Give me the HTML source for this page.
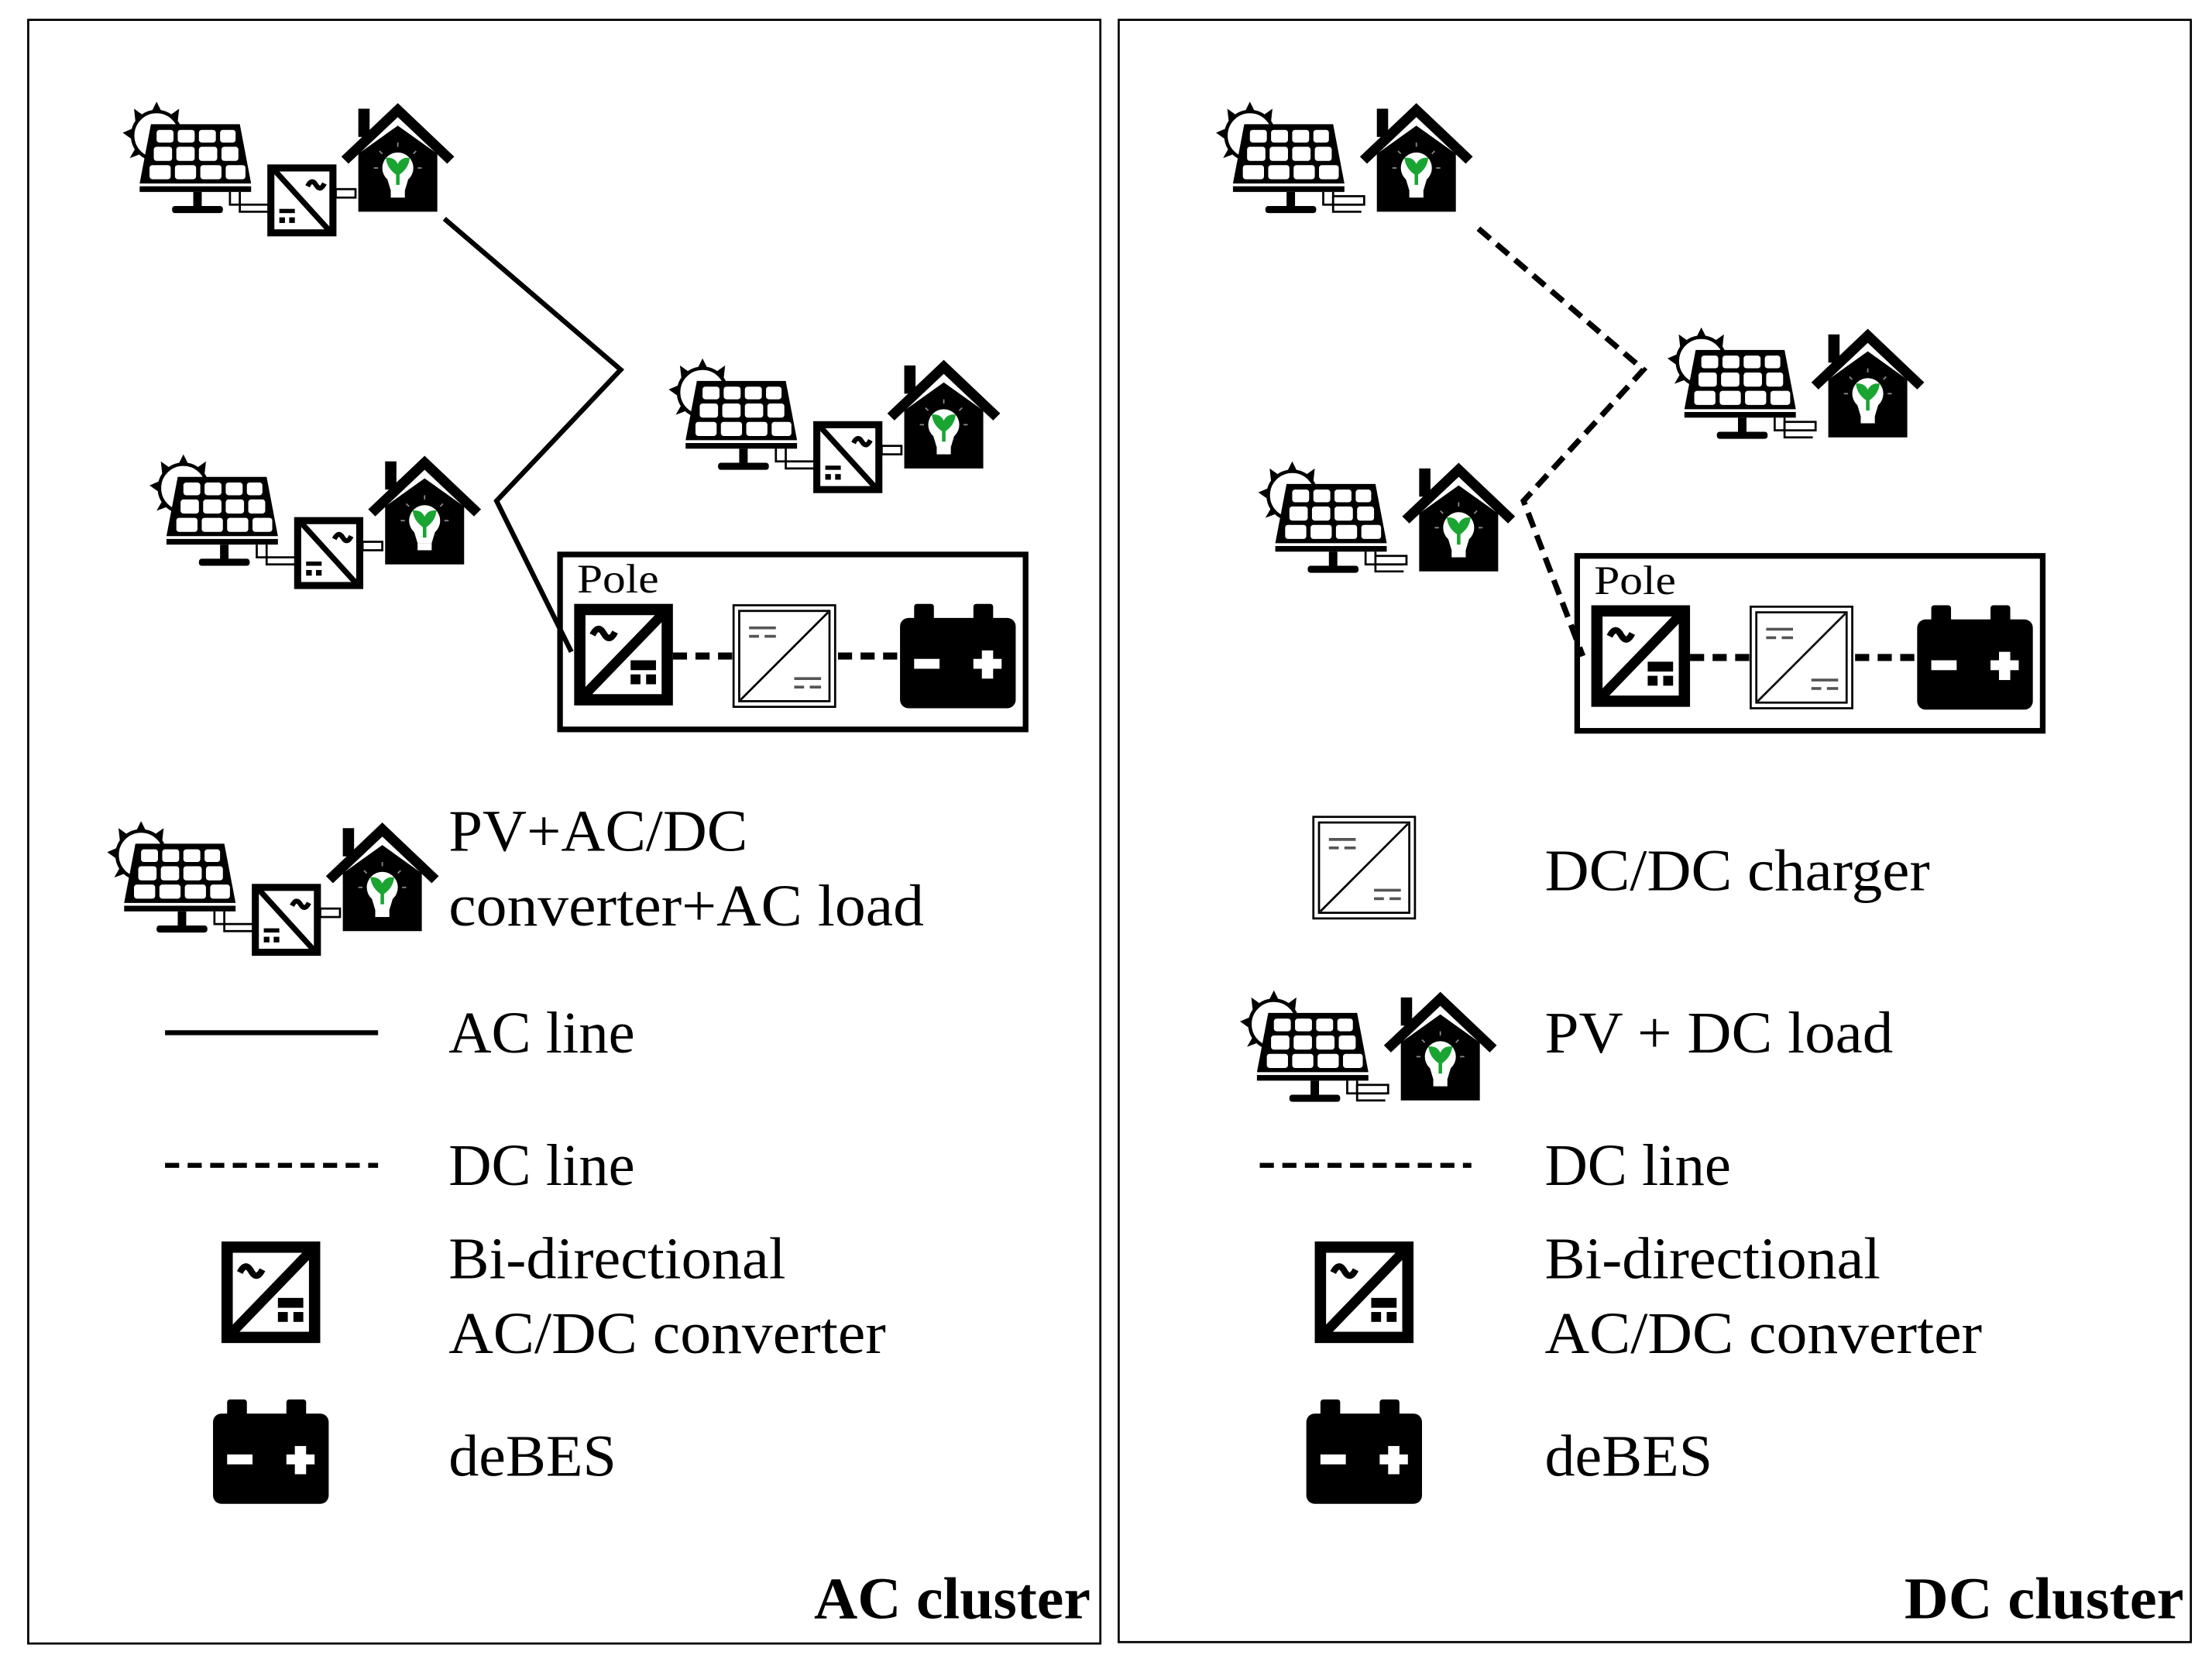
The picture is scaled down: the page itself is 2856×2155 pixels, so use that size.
<!DOCTYPE html>
<html><head><meta charset="utf-8"><style>
html,body{margin:0;padding:0;background:#fff;}
svg{display:block;}
text{font-family:"Liberation Serif","Times New Roman",serif;fill:#000;}
</style></head><body>
<svg width="2856" height="2155" viewBox="0 0 1568 1183" xmlns="http://www.w3.org/2000/svg" font-family="Liberation Serif, serif">
<defs>
  <g id="pv">
    <circle cx="111" cy="96" r="17" fill="none" stroke="#000" stroke-width="2.5"/>
    <g fill="#000">
      <polygon points="111,72 107,80 115,80"/>
      <polygon points="95,77 96,86 102,82"/>
      <polygon points="127,77 120,82 126,86"/>
      <polygon points="87,94 94,91 94,99"/>
      <polygon points="92,112 96,105 100,109"/>
      <polygon points="131,94 128,99 131,102"/>
    </g>
    <polygon points="107,88 170,88 178,130 99,130" fill="#000"/>
    <g fill="#fff">
      <rect x="111" y="92" width="12" height="9" rx="2"/><rect x="126" y="92" width="12" height="9" rx="2"/><rect x="141" y="92" width="12" height="9" rx="2"/><rect x="156" y="92" width="11" height="9" rx="2"/>
      <rect x="109" y="104" width="13" height="10" rx="2"/><rect x="125" y="104" width="13" height="10" rx="2"/><rect x="141" y="104" width="13" height="10" rx="2"/><rect x="157" y="104" width="12" height="10" rx="2"/>
      <rect x="106" y="117" width="15" height="10" rx="2"/><rect x="124" y="117" width="15" height="10" rx="2"/><rect x="142" y="117" width="15" height="10" rx="2"/><rect x="160" y="117" width="14" height="10" rx="2"/>
    </g>
    <rect x="99" y="132" width="79" height="4" fill="#000"/>
    <rect x="137" y="136" width="6" height="12" fill="#000"/>
    <rect x="122" y="146" width="36" height="5" rx="2" fill="#000"/>
    <polyline points="163,136 163,145 190,145" fill="none" stroke="#000" stroke-width="1.5"/>
    <polyline points="170,136 170,150 190,150" fill="none" stroke="#000" stroke-width="1.5"/>
  </g>
  <g id="house">
    <polygon points="39,0 79,38 74,43 39,10 4,43 -1,38" fill="#000"/>
    <rect x="11" y="4" width="8" height="20" fill="#000"/>
    <polygon points="11,36 39,16 67,36 67,77 11,77" fill="#000"/>
    <circle cx="39" cy="46" r="11" fill="#fff"/>
    <polygon points="31,52 47,52 44,62 34,62" fill="#fff"/>
    <rect x="34" y="62" width="10" height="5" fill="#fff"/>
    <path d="M39,58 L39,46 M39,50 Q33,46 32,40 Q38,40 39,48 M39,50 Q45,46 46,40 Q40,40 39,48" stroke="#1aa533" stroke-width="2.5" fill="#1aa533"/>
    <g stroke="#888" stroke-width="1"><line x1="39" y1="28" x2="39" y2="31"/><line x1="26" y1="34" x2="28" y2="36"/><line x1="52" y1="34" x2="50" y2="36"/><line x1="22" y1="46" x2="25" y2="46"/><line x1="56" y1="46" x2="53" y2="46"/></g>
  </g>
  <g id="conv">
    <rect x="3" y="3" width="44" height="46" fill="#fff" stroke="#000" stroke-width="5"/>
    <line x1="5" y1="4" x2="45" y2="48" stroke="#000" stroke-width="4"/>
    <path d="M29,16 q3,-6 6,-1 q3,5 6,-1" fill="none" stroke="#000" stroke-width="3.5"/>
    <rect x="9" y="32" width="11" height="3" fill="#000"/>
    <rect x="9" y="38" width="4" height="4" fill="#000"/><rect x="16" y="38" width="4" height="4" fill="#000"/>
  </g>
  <g id="unitAC">
    <use href="#pv"/>
    <use href="#conv" transform="translate(189,116)"/>
    <rect x="238" y="134" width="14" height="6" fill="#fff" stroke="#000" stroke-width="1.5"/>
    <use href="#house" transform="translate(243,73)"/>
  </g>
  <g id="unitDC">
    <use href="#pv"/>
    <rect x="170" y="139" width="22" height="6" fill="#fff" stroke="#000" stroke-width="1.5"/>
    <use href="#house" transform="translate(190,73)"/>
  </g>
  <g id="bi">
    <rect x="4" y="4" width="62" height="64" fill="#fff" stroke="#000" stroke-width="8"/>
    <line x1="6" y1="66" x2="64" y2="6" stroke="#000" stroke-width="7"/>
    <path d="M13,22 q4,-8 8,-1 q4,7 8,-1" fill="none" stroke="#000" stroke-width="4.5"/>
    <rect x="40" y="40" width="18" height="7" fill="#000"/>
    <rect x="40" y="50" width="7" height="7" fill="#000"/><rect x="51" y="50" width="7" height="7" fill="#000"/>
  </g>
  <g id="chg">
    <rect x="1" y="1" width="72" height="72" fill="#fff" stroke="#000" stroke-width="1.5"/>
    <rect x="5" y="5" width="64" height="64" fill="none" stroke="#000" stroke-width="1.5"/>
    <line x1="6" y1="68" x2="68" y2="6" stroke="#000" stroke-width="1.5"/>
    <g stroke="#555" stroke-width="2"><line x1="12" y1="17" x2="31" y2="17"/><line x1="12" y1="23" x2="19" y2="23"/><line x1="23" y1="23" x2="31" y2="23"/>
    <line x1="44" y1="53" x2="63" y2="53"/><line x1="44" y1="59" x2="51" y2="59"/><line x1="55" y1="59" x2="63" y2="59"/></g>
  </g>
  <g id="bat">
    <rect x="10" y="0" width="14" height="12" rx="2" fill="#000"/>
    <rect x="52" y="0" width="14" height="12" rx="2" fill="#000"/>
    <rect x="0" y="10" width="82" height="64" rx="6" fill="#000"/>
    <rect x="10" y="39" width="18" height="7" fill="#fff"/>
    <rect x="52" y="39" width="20" height="7" fill="#fff"/>
    <rect x="58" y="33" width="8" height="20" fill="#fff"/>
  </g>
  <g id="pole">
    <rect x="397" y="393" width="330" height="124" fill="none" stroke="#000" stroke-width="4"/>
    <text x="409" y="420" font-size="29" textLength="58" lengthAdjust="spacingAndGlyphs">Pole</text>
    <use href="#bi" transform="translate(407,428)"/>
    <line x1="477" y1="465" x2="520" y2="465" stroke="#000" stroke-width="5" stroke-dasharray="10,6"/>
    <use href="#chg" transform="translate(519,428)"/>
    <line x1="594" y1="465" x2="639" y2="465" stroke="#000" stroke-width="5" stroke-dasharray="10,6"/>
    <use href="#bat" transform="translate(638,428)"/>
  </g>
</defs>

<rect x="20" y="14" width="760" height="1151" fill="none" stroke="#000" stroke-width="1.5"/>
<rect x="793" y="14" width="760" height="1150" fill="none" stroke="#000" stroke-width="1.5"/>

<use href="#unitAC"/>
<use href="#unitAC" transform="translate(387,182)"/>
<use href="#unitAC" transform="translate(19,250)"/>
<polyline points="315,155 440,262 352,355 405,462" fill="none" stroke="#000" stroke-width="3.5"/>
<use href="#pole"/>

<use href="#unitAC" transform="translate(-11,510)"/>
<g font-size="42" font-family="Liberation Serif, serif">
<text x="318" y="603" textLength="212" lengthAdjust="spacingAndGlyphs">PV+AC/DC</text>
<text x="318" y="656" textLength="337" lengthAdjust="spacingAndGlyphs">converter+AC load</text>
<text x="318" y="746" textLength="132" lengthAdjust="spacingAndGlyphs">AC line</text>
<text x="318" y="840" textLength="132" lengthAdjust="spacingAndGlyphs">DC line</text>
<text x="318" y="906" textLength="239" lengthAdjust="spacingAndGlyphs">Bi-directional</text>
<text x="318" y="959" textLength="310" lengthAdjust="spacingAndGlyphs">AC/DC converter</text>
<text x="318" y="1046" textLength="119" lengthAdjust="spacingAndGlyphs">deBES</text>
<text x="1095" y="631" textLength="273" lengthAdjust="spacingAndGlyphs">DC/DC charger</text>
<text x="1095" y="746" textLength="247" lengthAdjust="spacingAndGlyphs">PV + DC load</text>
<text x="1095" y="840" textLength="132" lengthAdjust="spacingAndGlyphs">DC line</text>
<text x="1095" y="906" textLength="238" lengthAdjust="spacingAndGlyphs">Bi-directional</text>
<text x="1095" y="959" textLength="310" lengthAdjust="spacingAndGlyphs">AC/DC converter</text>
<text x="1095" y="1046" textLength="119" lengthAdjust="spacingAndGlyphs">deBES</text>
</g>
<text x="577" y="1147" font-size="42" font-weight="bold" textLength="196" lengthAdjust="spacingAndGlyphs">AC cluster</text>
<text x="1350" y="1147" font-size="42" font-weight="bold" textLength="198" lengthAdjust="spacingAndGlyphs">DC cluster</text>

<line x1="117" y1="732" x2="268" y2="732" stroke="#000" stroke-width="3.5"/>
<line x1="117" y1="826" x2="268" y2="826" stroke="#000" stroke-width="3.5" stroke-dasharray="10,6"/>
<use href="#bi" transform="translate(157,880)"/>
<use href="#bat" transform="translate(151,992)"/>

<use href="#unitDC" transform="translate(775,0)"/>
<use href="#unitDC" transform="translate(1095,160)"/>
<use href="#unitDC" transform="translate(805,255)"/>
<polyline points="1048,162 1165,262 1080,355 1122,465" fill="none" stroke="#000" stroke-width="4" stroke-dasharray="11,6"/>
<use href="#pole" transform="translate(721,1)"/>

<use href="#chg" transform="translate(930,578)"/>
<use href="#unitDC" transform="translate(792,630)"/>
<line x1="893" y1="826" x2="1043" y2="826" stroke="#000" stroke-width="3.5" stroke-dasharray="10,6"/>
<use href="#bi" transform="translate(932,880)"/>
<use href="#bat" transform="translate(926,992)"/>
</svg>
</body></html>
